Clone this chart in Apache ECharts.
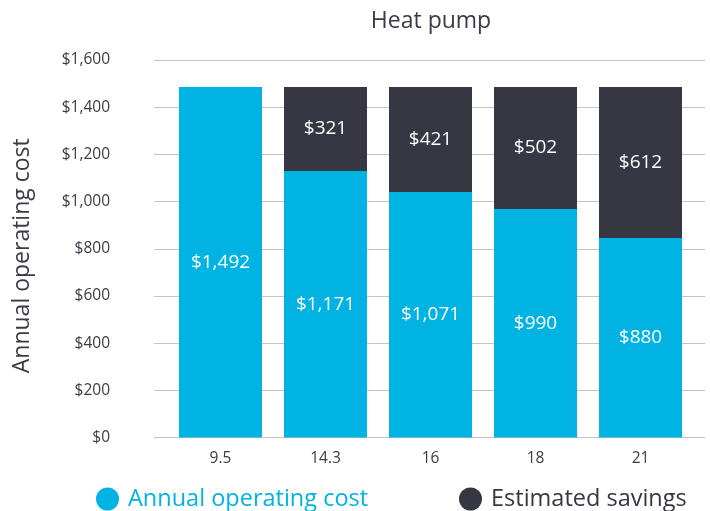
<!DOCTYPE html>
<html>
<head>
<meta charset="utf-8">
<script src="https://cdn.jsdelivr.net/npm/echarts@6/dist/echarts.min.js"></script>
<style>
	html, body { margin: 0; padding: 0; background: #fff; }
	#container { width: 710px; height: 511px; }
</style>
</head>
<body>
<div id="container"></div>
<script>
const Categories = ['9.5', '14.3', '16', '18', '21'];
// bar heights as drawn in the picture
const OperatingCost = [1486, 1130, 1041, 968, 846];
const Savings = [null, 356, 445, 518, 640];
// values printed on the bars
const CostLabels = [1492, 1171, 1071, 990, 880];
const SavingsLabels = [null, 321, 421, 502, 612];

const Cyan = '#00b3e3';
const Dark = '#363743';
const TextColor = '#3a3b45';
const Font = '"Open Sans", "Noto Sans", sans-serif';

function Money(v) {
	return '$' + Number(v).toLocaleString('en-US');
}

const option = {
	animation: false,
	textStyle: {fontFamily: Font},
	title: {
		text: 'Heat pump', left: 426, top: 5, textAlign: 'center', textStyle: {
			color: TextColor, fontWeight: 'normal', fontSize: 23, fontFamily: Font
		}
	},
	legend: [{
		data: ['Annual operating cost'], left: 91, top: 482, itemWidth: 23, itemHeight: 23, icon: 'circle',
		textStyle: {color: Cyan, fontSize: 23.5, fontFamily: Font, padding: [0, 0, 0, 4]}
	}, {
		data: ['Estimated savings'], left: 454, top: 482, itemWidth: 23, itemHeight: 23, icon: 'circle',
		textStyle: {color: Dark, fontSize: 23.5, fontFamily: Font, padding: [0, 0, 0, 4]}
	}],
	grid: [
		{left: 168, right: 17, top: 60, bottom: 73.5},
		{left: 154, right: 5, top: 60, bottom: 73.5}
	],
	xAxis: [{
		type: 'category', gridIndex: 0, data: Categories,
		axisLine: {show: false}, axisTick: {show: false},
		axisLabel: {color: TextColor, fontSize: 15.5, margin: 13, fontFamily: Font}
	}, {
		type: 'value', gridIndex: 1, min: 0, max: 1, show: false
	}],
	yAxis: [{
		type: 'value', gridIndex: 0, min: 0, max: 1600, interval: 200, show: false
	}, {
		type: 'value', gridIndex: 1, min: 0, max: 1600, interval: 200,
		name: 'Annual operating cost', nameLocation: 'middle', nameGap: 120,
		nameTextStyle: {color: TextColor, fontSize: 23, fontFamily: Font, padding: [0, 14, 0, 0]},
		axisLine: {show: false}, axisTick: {show: false},
		axisLabel: {color: TextColor, fontSize: 15.5, margin: 44, formatter: Money, fontFamily: Font},
		splitLine: {lineStyle: {color: '#c4c4c4', width: 1}}
	}],
	series: [{
		name: 'Annual operating cost', type: 'bar', stack: 'total', data: OperatingCost,
		xAxisIndex: 0, yAxisIndex: 0, barWidth: 83, z: 3,
		itemStyle: {color: Cyan},
		label: {show: true, position: 'inside', color: '#fff', fontSize: 19, fontFamily: Font,
			formatter: p => Money(CostLabels[p.dataIndex])}
	}, {
		name: 'Estimated savings', type: 'bar', stack: 'total', data: Savings,
		xAxisIndex: 0, yAxisIndex: 0, barWidth: 83, z: 3,
		itemStyle: {color: Dark},
		label: {show: true, position: 'inside', color: '#fff', fontSize: 19, fontFamily: Font,
			formatter: p => Money(SavingsLabels[p.dataIndex])}
	}]
};
echarts.init(document.getElementById('container')).setOption(option);
</script>
</body>
</html>
